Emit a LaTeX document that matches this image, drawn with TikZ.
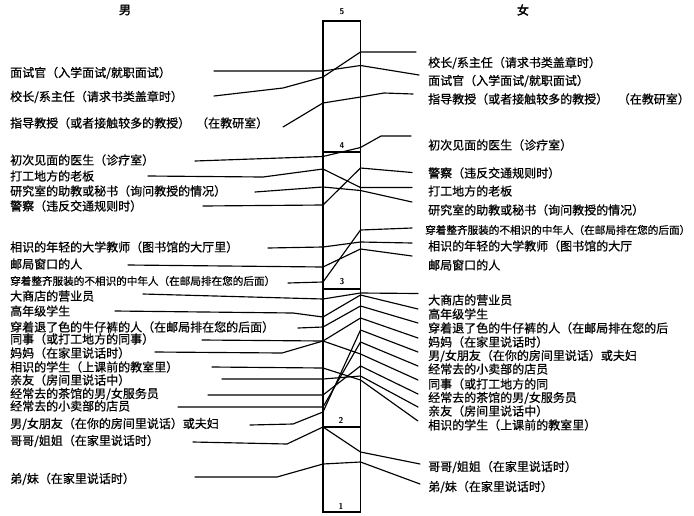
\documentclass[tikz,border=0pt]{standalone}
\usepackage{fontspec}
\newfontfamily\cjk[FakeBold=0.6]{Noto Sans CJK SC}
\newfontfamily\cjkbold[FakeBold=2.2]{Noto Sans CJK SC}
\begin{document}
\begin{tikzpicture}[x=1pt,y=-1pt,
  lab/.style={anchor=west,inner sep=0pt,font=\cjk\fontsize{12}{12}\selectfont},
  labs/.style={anchor=west,inner sep=0pt,font=\cjk\fontsize{10.6}{11}\selectfont},
  head/.style={inner sep=0pt,font=\cjkbold\fontsize{12}{12}\selectfont},
  num/.style={inner sep=0pt,font=\sffamily\bfseries\fontsize{8.5}{8.5}\selectfont},
  conn/.style={line width=1.15pt,line join=round,line cap=round},
  col/.style={line width=1.3pt},
  divider/.style={line width=1.3pt}]
\useasboundingbox (0,0) rectangle (694,515);
% column
\draw[col] (323,21) rectangle (360.5,512);
\draw[divider] (323,152) -- (360.5,152);
\draw[divider] (323,289) -- (360.5,289);
\draw[divider,line width=1.7pt] (323,427) -- (360.5,427);
\node[num] (n5) at (342,12) {5};
\node[num] (n4) at (342,146) {4};
\node[num] (n3) at (342,282) {3};
\node[num] (n2) at (341,420) {2};
\node[num] (n1) at (341,506) {1};
\node[head] (male) at (125,10) {男};
\node[head] (female) at (523,10) {女};
% left labels
\node[lab] (L1) at (10,73) {面试官（入学面试/就职面试）};
\node[lab] (L2) at (10,97) {校长/系主任（请求书类盖章时）};
\node[lab] (L3) at (10,123) {指导教授（或者接触较多的教授）\hspace{0.5em}（在教研室）};
\node[lab] (L4) at (10,160) {初次见面的医生（诊疗室）};
\node[lab] (L5) at (10,176) {打工地方的老板};
\node[lab] (L6) at (10,191) {研究室的助教或秘书（询问教授的情况）};
\node[lab] (L7) at (10,206) {警察（违反交通规则时）};
\node[lab] (L8) at (10,247) {相识的年轻的大学教师（图书馆的大厅里）};
\node[lab] (L9) at (10,264) {邮局窗口的人};
\node[labs] (L10) at (10,281) {穿着整齐服装的不相识的中年人（在邮局排在您的后面）};
\node[lab] (L11) at (10,296) {大商店的营业员};
\node[lab] (L12) at (10,311) {高年级学生};
\node[lab] (L13) at (10,327) {穿着退了色的牛仔裤的人（在邮局排在您的后面）};
\node[lab] (L14) at (10,339) {同事（或打工地方的同事）};
\node[lab] (L15) at (10,353) {妈妈（在家里说话时）};
\node[lab] (L16) at (10,367) {相识的学生（上课前的教室里）};
\node[lab] (L17) at (10,380) {亲友（房间里说话中）};
\node[lab] (L18) at (10,394) {经常去的茶馆的男/女服务员};
\node[lab] (L19) at (10,406) {经常去的小卖部的店员};
\node[lab] (L20) at (10,424) {男/女朋友（在你的房间里说话）或夫妇};
\node[lab] (L21) at (10,441) {哥哥/姐姐（在家里说话时）};
\node[lab] (L22) at (10,479) {弟/妹（在家里说话时）};
% right labels
\node[lab] (R1) at (428,63) {校长/系主任（请求书类盖章时）};
\node[lab] (R2) at (428,81) {面试官（入学面试/就职面试）};
\node[lab] (R3) at (428,99) {指导教授（或者接触较多的教授）\hspace{0.8em}（在教研室）};
\node[lab] (R4) at (428,145) {初次见面的医生（诊疗室）};
\node[lab] (R5) at (428,173) {警察（违反交通规则时）};
\node[lab] (R6) at (428,191) {打工地方的老板};
\node[lab] (R7) at (428,210) {研究室的助教或秘书（询问教授的情况）};
\node[labs] (R8) at (425,230) {穿着整齐服装的不相识的中年人（在邮局排在您的后面）};
\node[lab] (R9) at (428,246) {相识的年轻的大学教师（图书馆的大厅};
\node[lab] (R10) at (428,265) {邮局窗口的人};
\node[lab] (R11) at (428,300) {大商店的营业员};
\node[lab] (R12) at (428,314) {高年级学生};
\node[lab] (R13) at (428,328) {穿着退了色的牛仔裤的人（在邮局排在您的后};
\node[lab] (R14) at (428,342) {妈妈（在家里说话时）};
\node[lab] (R15) at (428,356) {男/女朋友（在你的房间里说话）或夫妇};
\node[lab] (R16) at (428,369) {经常去的小卖部的店员};
\node[lab] (R17) at (428,384) {同事（或打工地方的同};
\node[lab] (R18) at (428,398) {经常去的茶馆的男/女服务员};
\node[lab] (R19) at (428,411) {亲友（房间里说话中）};
\node[lab] (R20) at (428,425) {相识的学生（上课前的教室里）};
\node[lab] (R21) at (428,467) {哥哥/姐姐（在家里说话时）};
\node[lab] (R22) at (428,487) {弟/妹（在家里说话时）};
% connectors: section 5
\draw[conn] (214,71) -- (323,71) -- (360.5,65.5) -- (419,75);
\draw[conn] (214,96) -- (283,88) -- (323,77) -- (360.5,52) -- (416,52);
\draw[conn] (283,127) -- (323,103) -- (360.5,97) -- (384,93) -- (413,94);
% section 4
\draw[conn] (195,161) -- (323,156.5) -- (360.5,147.5) -- (381,136) -- (411,136);
\draw[conn] (148,176) -- (263,177) -- (323,169) -- (360.5,187.5) -- (412,187.5);
\draw[conn] (255,192) -- (323,187) -- (360.5,190.5) -- (412,202);
\draw[conn] (203,206) -- (323,205) -- (360.5,168) -- (412,172.5);
\draw[conn] (268,248) -- (323,247) -- (360.5,242) -- (412,243);
\draw[conn] (128,265) -- (323,267) -- (360.5,249) -- (412,256);
\draw[conn] (288,283) -- (323,282) -- (360.5,230) -- (412,228);
% section 3
\draw[conn] (143,294) -- (323,299) -- (360.5,293) -- (418,293.5);
\draw[conn] (115,311) -- (293,313) -- (323,317) -- (360.5,295) -- (418,309);
\draw[conn] (298,328) -- (323,327) -- (360.5,306) -- (418,323);
\draw[conn] (202,340) -- (323,341) -- (360.5,354) -- (418,380);
\draw[conn] (155,352) -- (282,353) -- (323,341) -- (360.5,318) -- (418,338);
\draw[conn] (212,367) -- (323,368) -- (360.5,380) -- (418,421);
\draw[conn] (222,379) -- (323,379) -- (360.5,376) -- (418,407);
\draw[conn] (208,395) -- (323,395) -- (360.5,366) -- (418,394);
\draw[conn] (178,407) -- (323,407) -- (360.5,342) -- (418,366);
\draw[conn] (250,425) -- (293,424) -- (323,412) -- (360.5,330) -- (418,352);
% section 2
\draw[conn] (193,442) -- (287,444) -- (323,427) -- (360.5,452) -- (420,464);
\draw[conn] (195,477) -- (277,477) -- (323,464) -- (360.5,462) -- (420,484);
\end{tikzpicture}
\end{document}
